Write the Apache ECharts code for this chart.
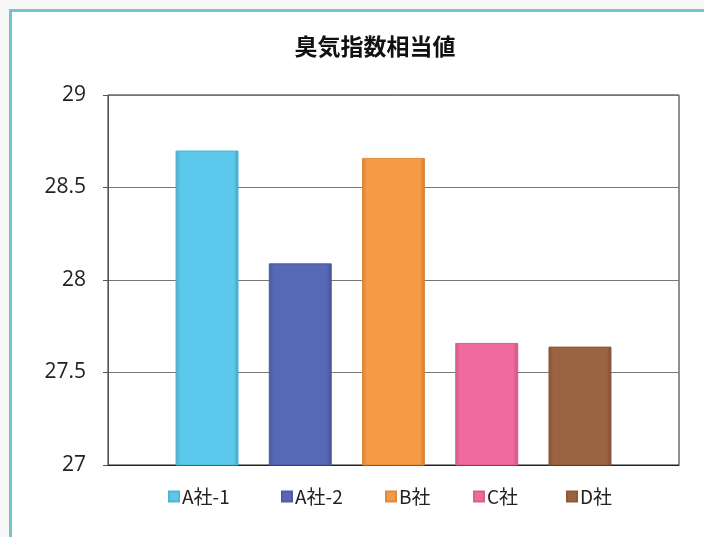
<!DOCTYPE html>
<html><head><meta charset="utf-8">
<script src="https://cdn.jsdelivr.net/npm/echarts@6/dist/echarts.min.js"></script>
<style>html,body{margin:0;padding:0;background:#f6f8f8;}#c{width:704px;height:537px;}</style>
</head><body><div id="c"></div>
<script>
const title = "臭気指数相当値";
const seriesNames = ["A社-1", "A社-2", "B社", "C社", "D社"];
const seriesValues = [28.70, 28.09, 28.66, 27.66, 27.64];
const seriesColors = ["#5cc8ec", "#5668b6", "#f69a46", "#f06aa0", "#9a6440"];
const yTicks = [27, 27.5, 28, 28.5, 29];
const legendLefts = [163, 276, 380, 468, 561];

function shade(hex, f) {
  const n = parseInt(hex.slice(1), 16);
  let r = (n >> 16) & 255, g = (n >> 8) & 255, b = n & 255;
  const m = v => Math.max(0, Math.min(255, Math.round(f < 0 ? v * (1 + f) : v + (255 - v) * f)));
  return "rgb(" + m(r) + "," + m(g) + "," + m(b) + ")";
}

const chart = echarts.init(document.getElementById('c'));
const series = seriesNames.map((name, i) => ({
  name: name,
  type: 'bar',
  data: [seriesValues[i]],
  barWidth: 63,
  barGap: '48%',
  itemStyle: {
    color: new echarts.graphic.LinearGradient(0, 0, 1, 0, [
      { offset: 0, color: shade(seriesColors[i], -0.15) },
      { offset: 0.08, color: seriesColors[i] },
      { offset: 0.92, color: seriesColors[i] },
      { offset: 1, color: shade(seriesColors[i], -0.2) }
    ]),
    borderColor: shade(seriesColors[i], -0.1),
    borderWidth: 1
  }
}));

const legends = seriesNames.map((name, i) => ({
  top: 482, left: legendLefts[i],
  icon: 'rect', itemWidth: 10, itemHeight: 10, itemGap: 10,
  textStyle: { fontSize: 19, color: '#222', fontFamily: 'Noto Sans CJK JP', padding: [0, 0, 0, -2] },
  data: [name]
}));

chart.setOption({
  backgroundColor: 'transparent',
  animation: false,
  graphic: [{
    type: 'rect', z: -10,
    shape: { x: 10.5, y: 10.5, width: 720, height: 560 },
    style: { fill: '#ffffff', stroke: '#74c5c8', lineWidth: 3 }
  }],
  title: {
    text: title, left: 370, top: 30, textAlign: 'center',
    textStyle: { fontSize: 23, fontWeight: 'bold', color: '#111', fontFamily: 'Noto Sans CJK JP' }
  },
  legend: legends,
  grid: { left: 108, right: 25, top: 95, bottom: 72, show: true, borderColor: '#222', borderWidth: 1 },
  xAxis: {
    type: 'category', data: [''],
    axisLine: { lineStyle: { color: '#222' } },
    axisTick: { show: false }, axisLabel: { show: false }
  },
  yAxis: {
    type: 'value', min: yTicks[0], max: yTicks[yTicks.length - 1], interval: 0.5,
    axisLine: { show: true, lineStyle: { color: '#555' } },
    axisTick: { show: true, length: 5, inside: false, lineStyle: { color: '#555' } },
    axisLabel: { fontSize: 21, color: '#222', margin: 22, fontFamily: 'Open Sans' },
    splitLine: { lineStyle: { color: '#777', width: 1 } }
  },
  series: series
});
</script></body></html>
